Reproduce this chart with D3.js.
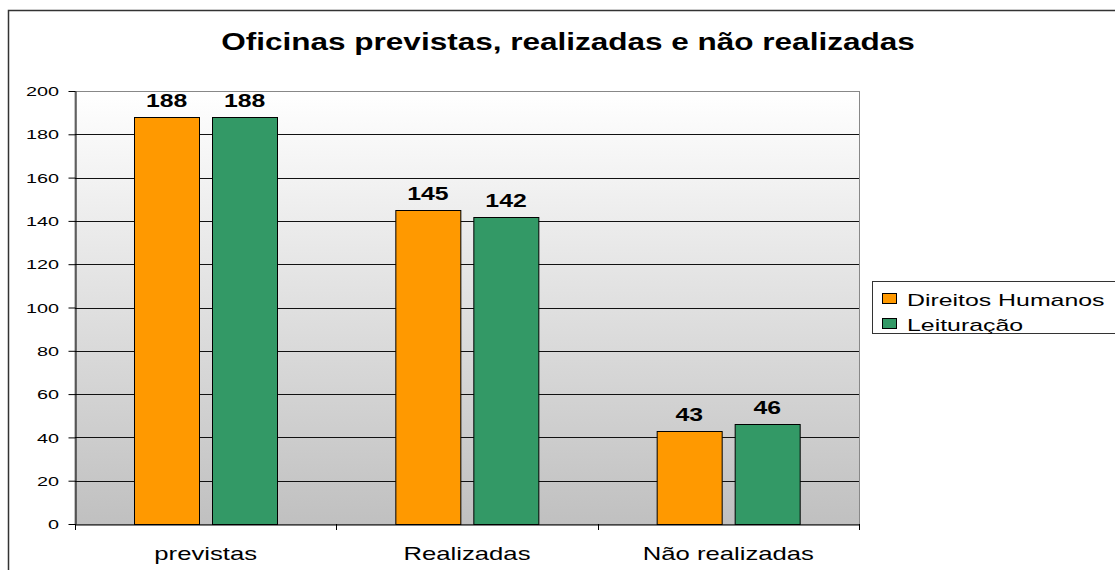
<!DOCTYPE html>
<html>
<head>
<meta charset="utf-8">
<script src="https://cdn.jsdelivr.net/npm/d3@7"></script>
<style>
  body { margin: 0; background: #fff; }
  text { font-family: "Liberation Sans", Arial, sans-serif; }
</style>
</head>
<body>
<svg width="1115" height="570"></svg>
<script>
let categories = ["previstas", "Realizadas", "Não realizadas"];
let seriesNames = ["Direitos Humanos", "Leituração"];
let direitosHumanos = [188, 145, 43];
let leituracao = [188, 142, 46];
let yTicks = [0, 20, 40, 60, 80, 100, 120, 140, 160, 180, 200];
let colors = ["#ff9900", "#339966"];

let svg = d3.select("svg");

let plot = {left: 75, right: 859, top: 91, bottom: 524};

// the original picture is stretched sideways, so widen text the same way
function stretch(sel, sx){
    sel.each(function(){
        let t = d3.select(this);
        let x = +t.attr("x") || 0, y = +t.attr("y") || 0;
        t.attr("x", 0).attr("y", 0)
         .attr("transform", `translate(${x},${y}) scale(${sx},1)`);
    });
}

// outer chart frame (runs off the page on right/bottom)
svg.append("rect")
    .attr("x", 8.5).attr("y", 10.5)
    .attr("width", 1200).attr("height", 700)
    .attr("fill", "#fff")
    .attr("stroke", "#333")
    .attr("stroke-width", 1.5);

let defs = svg.append("defs");
let grad = defs.append("linearGradient")
    .attr("id", "bg").attr("x1", 0).attr("y1", 0).attr("x2", 0).attr("y2", 1);
grad.append("stop").attr("offset", "0%").attr("stop-color", "#ffffff");
grad.append("stop").attr("offset", "100%").attr("stop-color", "#c0c0c0");

let x0 = d3.scaleBand()
    .domain(categories)
    .range([plot.left, plot.right]);

let x1 = d3.scaleBand()
    .domain(seriesNames)
    .range([0, x0.bandwidth()])
    .paddingInner(0.167)
    .paddingOuter(0.758);

let y = d3.scaleLinear()
    .domain([0, 200])
    .range([plot.bottom, plot.top]);

svg.append("rect")
    .attr("x", plot.left).attr("y", plot.top + 0.5)
    .attr("width", plot.right - plot.left + 0.5)
    .attr("height", plot.bottom - plot.top)
    .attr("fill", "url(#bg)")
    .attr("stroke", "#888")
    .attr("stroke-width", 1);

// gridlines
svg.append("g")
    .selectAll("line")
    .data(yTicks.slice(1, -1)).enter().append("line")
        .attr("x1", plot.left).attr("x2", plot.right)
        .attr("y1", d => Math.round(y(d)) + 0.5)
        .attr("y2", d => Math.round(y(d)) + 0.5)
        .attr("stroke", "#111")
        .attr("stroke-width", 1);

// y axis
let yAxis = svg.append("g")
    .attr("transform", `translate(${plot.left + 0.5},0)`)
    .call(d3.axisLeft(y).tickValues(yTicks).tickSize(7).tickPadding(9.5).tickSizeOuter(0));
yAxis.selectAll("text")
    .attr("font-size", 12.8)
    .attr("fill", "#000")
    .attr("font-family", "Liberation Sans, Arial, sans-serif")
    .attr("dy", "0.36em")
    .call(stretch, 1.55);
yAxis.select(".domain").attr("stroke", "#000");
yAxis.selectAll(".tick line").attr("stroke", "#000");

// x axis
let xAxis = svg.append("g")
    .attr("transform", `translate(0,${plot.bottom + 0.5})`)
    .call(d3.axisBottom(x0).tickSize(0).tickPadding(35).tickSizeOuter(0));
xAxis.select(".domain").attr("stroke", "#000");
xAxis.selectAll("text")
    .attr("font-size", 18.6)
    .attr("fill", "#000")
    .attr("font-family", "Liberation Sans, Arial, sans-serif")
    .attr("dy", 0)
    .call(stretch, 1.38);

// category boundary ticks
let bounds = categories.map(c => x0(c)).concat([plot.right]);
svg.append("g")
    .selectAll("line")
    .data(bounds).enter().append("line")
        .attr("x1", d => Math.round(d) + 0.5).attr("x2", d => Math.round(d) + 0.5)
        .attr("y1", plot.bottom).attr("y2", plot.bottom + 6)
        .attr("stroke", "#000");

let rows = categories.map((c, i) => ({cat: c, values: [direitosHumanos[i], leituracao[i]]}));

let groups = svg.append("g")
    .selectAll("g")
    .data(rows).enter().append("g")
        .attr("transform", d => `translate(${x0(d.cat)},0)`);

groups.selectAll("rect")
    .data(d => d.values.map((v, j) => ({key: seriesNames[j], value: v, j: j})))
    .enter().append("rect")
        .attr("x", d => Math.round(x1(d.key)) + 0.5)
        .attr("y", d => Math.round(y(d.value)) + 0.5)
        .attr("width", x1.bandwidth())
        .attr("height", d => Math.round(y(0)) - Math.round(y(d.value)))
        .attr("fill", d => colors[d.j])
        .attr("stroke", "#000")
        .attr("stroke-width", 1);

groups.selectAll("text")
    .data(d => d.values.map((v, j) => ({key: seriesNames[j], value: v})))
    .enter().append("text")
        .attr("x", d => x1(d.key) + x1.bandwidth() / 2)
        .attr("y", d => y(d.value) - 10)
        .attr("text-anchor", "middle")
        .attr("font-size", 18.5)
        .attr("font-weight", "bold")
        .text(d => d.value)
        .call(stretch, 1.34);

// title
svg.append("text")
    .attr("x", 568).attr("y", 50)
    .attr("text-anchor", "middle")
    .attr("font-size", 23)
    .attr("font-weight", "bold")
    .text("Oficinas previstas, realizadas e não realizadas")
    .call(stretch, 1.37);

// legend
let legend = svg.append("g");
legend.append("rect")
    .attr("x", 872.5).attr("y", 281.5)
    .attr("width", 300).attr("height", 52)
    .attr("fill", "#fff")
    .attr("stroke", "#333");

let items = legend.selectAll("g.item")
    .data(seriesNames).enter().append("g")
        .attr("class", "item")
        .attr("transform", (d, i) => `translate(882,${298 + i * 25})`);
items.append("rect")
    .attr("x", 0.5).attr("y", -4.5)
    .attr("width", 14).attr("height", 10)
    .attr("fill", (d, i) => colors[i])
    .attr("stroke", "#000");
items.append("text")
    .attr("x", 25).attr("y", 8)
    .attr("font-size", 16.8)
    .text(d => d)
    .call(stretch, 1.48);
</script>
</body>
</html>
